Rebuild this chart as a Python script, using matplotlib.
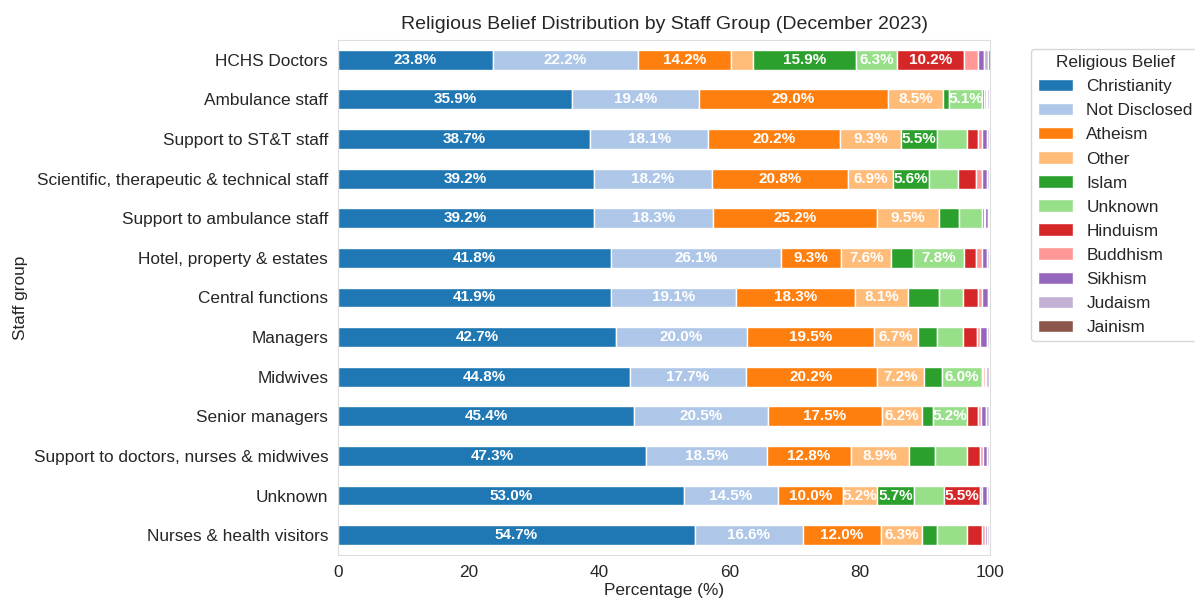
import numpy as np
import matplotlib.pyplot as plt
import seaborn as sns

sns.set_style('white')
plt.rcParams['font.family'] = ['Liberation Sans', 'DejaVu Sans']

# staff groups, top to bottom as shown
groups = ['HCHS Doctors', 'Ambulance staff', 'Support to ST&T staff',
          'Scientific, therapeutic & technical staff', 'Support to ambulance staff',
          'Hotel, property & estates', 'Central functions', 'Managers', 'Midwives',
          'Senior managers', 'Support to doctors, nurses & midwives', 'Unknown',
          'Nurses & health visitors']

beliefs = ['Christianity', 'Not Disclosed', 'Atheism', 'Other', 'Islam', 'Unknown',
           'Hinduism', 'Buddhism', 'Sikhism', 'Judaism', 'Jainism']

christianity = [23.8, 35.9, 38.7, 39.2, 39.2, 41.8, 41.9, 42.7, 44.8, 45.4, 47.3, 53.0, 54.7]
not_disclosed = [22.2, 19.4, 18.1, 18.2, 18.3, 26.1, 19.1, 20.0, 17.7, 20.5, 18.5, 14.5, 16.6]
atheism = [14.2, 29.0, 20.2, 20.8, 25.2, 9.3, 18.3, 19.5, 20.2, 17.5, 12.8, 10.0, 12.0]
other = [3.4, 8.5, 9.3, 6.9, 9.5, 7.6, 8.1, 6.7, 7.2, 6.2, 8.9, 5.2, 6.3]
islam = [15.9, 0.9, 5.5, 5.6, 3.1, 3.4, 4.8, 3.0, 2.8, 1.7, 4.1, 5.7, 2.3]
unknown = [6.3, 5.1, 4.6, 4.4, 3.5, 7.8, 3.7, 4.0, 6.0, 5.2, 4.9, 4.5, 4.6]
hinduism = [10.2, 0.3, 1.8, 2.7, 0.2, 1.8, 2.3, 2.1, 0.2, 1.7, 1.9, 5.5, 2.3]
buddhism = [2.1, 0.3, 0.6, 0.9, 0.3, 1.0, 0.6, 0.5, 0.4, 0.4, 0.5, 0.4, 0.5]
sikhism = [1.0, 0.2, 0.8, 0.8, 0.4, 0.7, 0.9, 1.0, 0.1, 0.8, 0.7, 0.8, 0.2]
judaism = [0.6, 0.2, 0.3, 0.4, 0.2, 0.4, 0.2, 0.4, 0.5, 0.5, 0.2, 0.3, 0.4]
jainism = [0.3, 0.1, 0.1, 0.1, 0.1, 0.1, 0.1, 0.1, 0.1, 0.1, 0.1, 0.1, 0.1]

series = [christianity, not_disclosed, atheism, other, islam, unknown,
          hinduism, buddhism, sikhism, judaism, jainism]

colors = plt.get_cmap('tab20').colors

fig = plt.figure(figsize=(11.95, 6.01), dpi=100)
ax = fig.add_axes([0.2828, 0.0765, 0.5457, 0.857])

y = np.arange(len(groups))
left = np.zeros(len(groups))
for i, (name, vals) in enumerate(zip(beliefs, series)):
    vals = np.array(vals)
    bars = ax.barh(y, vals, left=left, height=0.5, color=colors[i],
                   edgecolor='white', linewidth=1, label=name)
    # only label the wider segments
    for b, v in zip(bars, vals):
        if v > 5:
            ax.text(b.get_x() + b.get_width() / 2, b.get_y() + b.get_height() / 2,
                    f'{v:.1f}%', ha='center', va='center', color='white',
                    fontsize=11, fontweight='bold')
    left += vals

ax.set_yticks(y)
ax.set_yticklabels(groups, fontsize=12.4)
ax.set_ylim(len(groups) - 0.5, -0.5)
ax.set_xlim(0, 100)
ax.tick_params(axis='x', labelsize=12.4)
ax.set_xlabel('Percentage (%)', fontsize=12.4, labelpad=2)
ax.set_ylabel('Staff group', fontsize=12.4)
ax.set_title('Religious Belief Distribution by Staff Group (December 2023)', fontsize=14, pad=8)
for s in ax.spines.values():
    s.set_color('#dddddd')

ax.legend(title='Religious Belief', bbox_to_anchor=(1.05, 1.0), loc='upper left',
          fontsize=12.4, title_fontsize=12.4, labelspacing=0.52)

fig.savefig('out.png', dpi=100)
